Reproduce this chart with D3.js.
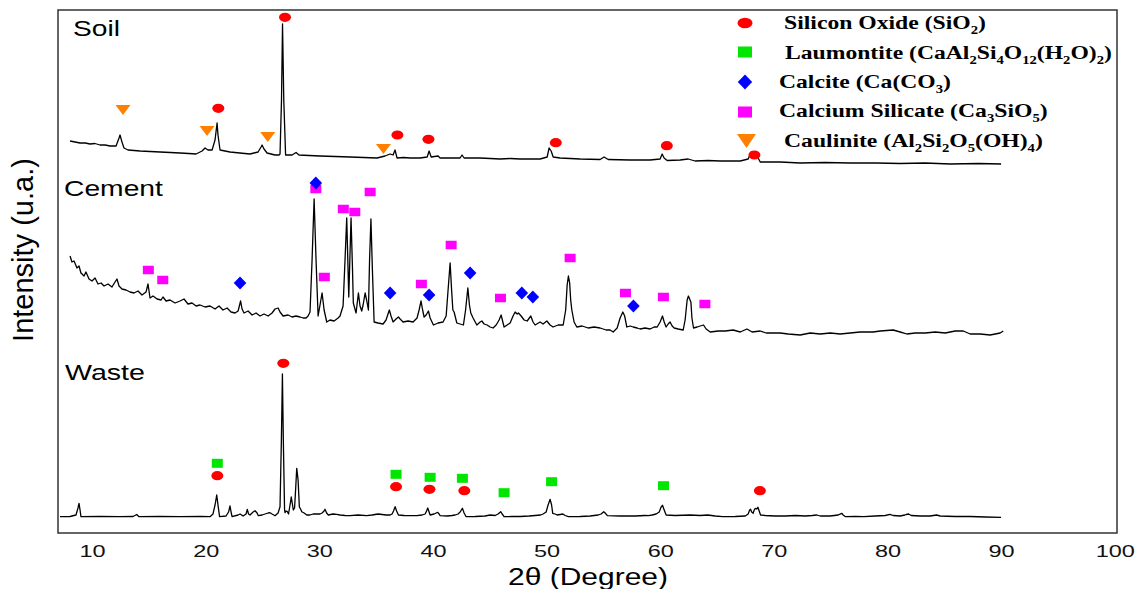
<!DOCTYPE html>
<html><head><meta charset="utf-8">
<script src="https://cdn.jsdelivr.net/npm/d3@7"></script>
<style>body{margin:0;background:#fff;} svg{display:block;}</style>
</head><body>
<svg id="c" width="1144" height="589"></svg>
<script>
// ---------------- DATA ----------------
const xTicks = [10,20,30,40,50,60,70,80,90,100];
const sampleNames = ["Soil","Cement","Waste"];

// [2theta (deg), intensity (a.u., above each pattern's own baseline)]
const soil = [[8.06,25],[8.50,24],[8.94,23],[9.40,23],[9.82,22],[10.25,22.5],[10.70,21],[11.15,21],[11.58,20],[12.11,20],[12.37,28],[12.46,31],[12.63,24],[12.81,18],[13.16,16],[13.70,15.5],[14.22,15],[15.10,14.5],[15.98,14],[16.90,13.5],[17.74,13],[18.50,12.5],[19.15,12],[19.68,15],[19.94,18],[20.20,16],[20.56,16],[20.82,26],[21.00,43],[21.08,31],[21.26,16],[21.70,15],[22.14,14],[23.00,13],[23.90,12],[24.61,14],[24.87,19],[24.96,21],[25.13,17],[25.40,13],[26.10,11],[26.45,11],[26.54,12],[26.67,66],[26.76,142],[26.87,66],[27.03,11],[27.60,11],[27.95,13.5],[28.21,11],[29.10,10.5],[30.06,10],[31.40,9.5],[32.70,9],[33.90,8.5],[35.08,8],[35.78,10],[36.22,12],[36.49,11],[36.66,16],[36.84,8],[37.40,8.5],[37.99,8],[38.87,8],[39.49,9],[39.66,15],[39.84,9],[40.45,10],[40.63,8],[41.50,8],[42.39,8],[42.56,11],[42.74,8],[44.14,8],[45.91,7],[46.80,7.5],[47.67,7],[49.43,7],[50.05,9],[50.22,18],[50.40,15],[50.58,9],[51.19,8],[52.95,7],[54.71,6.5],[55.06,9],[55.42,6.5],[57.35,6],[59.11,6],[59.99,7],[60.17,12],[60.34,8],[60.61,5.5],[61.75,6],[62.46,7],[63.07,5],[64.20,5.5],[65.27,5],[67.04,5],[67.74,7],[68.00,14],[68.18,13],[68.36,11],[68.53,10],[68.80,4],[70.56,4],[72.32,3],[74.50,3.5],[76.72,3],[79.00,3],[81.12,2.5],[83.30,3],[85.52,2],[88.00,2.5],[90.00,2]];

const cement = [[8.06,80],[8.23,74],[8.41,75],[8.67,68],[8.85,70],[9.02,63],[9.29,60],[9.46,64],[9.73,57],[9.99,55],[10.26,58],[10.52,52],[10.79,53],[11.05,50],[11.40,52],[11.75,49],[12.02,54],[12.19,57],[12.37,50],[12.63,47],[12.99,46],[13.34,44],[13.69,43],[14.04,45],[14.39,41],[14.75,44],[14.92,52],[15.10,38],[15.36,40],[15.72,37],[16.07,36],[16.24,39],[16.51,35],[16.86,36],[17.30,33],[17.74,35],[18.09,37],[18.44,32],[18.80,33],[19.15,30],[19.50,31],[19.94,29],[20.38,30],[20.82,27],[21.17,30],[21.52,26],[21.88,28],[22.23,24],[22.58,23],[22.85,25],[23.07,35],[23.20,27],[23.37,23],[23.73,25],[24.08,21],[24.43,23],[24.78,20],[25.13,22],[25.49,20],[25.84,23],[26.10,27],[26.37,28],[26.54,24],[26.81,20],[27.25,21],[27.60,19],[27.95,20],[28.30,19],[28.57,18],[28.83,18],[29.01,20],[29.18,24],[29.36,76],[29.54,137],[29.71,76],[29.89,20],[30.06,31],[30.24,43],[30.42,26],[30.65,14],[30.94,16],[31.30,15],[31.65,18],[31.82,20],[32.09,30],[32.26,76],[32.41,118],[32.59,39],[32.79,118],[32.92,66],[32.99,33],[33.23,23],[33.44,43],[33.58,30],[33.73,25],[33.85,31],[34.03,43],[34.16,36],[34.32,26],[34.42,76],[34.54,117],[34.67,66],[34.82,14],[35.17,13],[35.61,12],[35.87,16],[36.16,26],[36.31,20],[36.49,14],[36.75,17],[36.96,19],[37.11,17],[37.37,14],[37.81,15],[38.25,14],[38.60,18],[38.78,26],[38.95,35],[39.09,26],[39.22,19],[39.40,21],[39.60,25],[39.75,18],[40.04,11],[40.45,13],[40.89,14],[41.16,20],[41.33,46],[41.51,73],[41.64,46],[41.75,26],[41.86,24],[42.10,13],[42.39,12],[42.68,11],[42.87,26],[43.07,48],[43.21,31],[43.33,23],[43.53,18],[43.86,11],[44.15,14],[44.30,15],[44.50,12],[44.76,11],[45.03,9],[45.29,8],[45.56,11],[45.82,16],[46.00,21],[46.17,13],[46.26,9],[46.53,11],[46.79,13],[47.05,20],[47.23,24],[47.41,22],[47.52,23],[47.76,20],[48.02,16],[48.29,15],[48.61,20],[48.81,14],[48.99,11],[49.43,14],[49.69,12],[50.02,15],[50.31,11],[50.57,9],[51.02,11],[51.46,11],[51.68,26],[51.81,51],[51.92,60],[52.03,53],[52.12,36],[52.22,26],[52.42,14],[52.66,9],[53.13,10],[53.66,8],[54.18,9],[54.71,8],[55.24,6],[55.59,6],[55.86,4],[56.21,8],[56.47,18],[56.71,24],[56.87,20],[57.06,9],[57.35,10],[57.62,9],[57.97,8],[58.23,7],[58.67,8],[59.11,7],[59.47,9],[59.73,9],[59.99,14],[60.20,20],[60.35,14],[60.52,9],[60.70,12],[60.87,14],[61.05,10],[61.23,8],[61.58,7],[62.02,6],[62.19,16],[62.37,36],[62.48,40],[62.70,34],[62.79,18],[62.93,8],[63.25,9],[63.52,10],[63.81,11],[64.04,7],[64.40,4],[65.10,5],[65.72,5],[66.42,6],[67.04,4],[67.63,7],[68.09,4],[68.80,5],[69.33,3],[69.94,3],[70.56,3],[71.26,2],[72.32,1],[73.20,3],[74.08,2],[74.96,3],[75.84,2],[76.72,3],[77.60,4],[78.74,4],[79.36,5],[80.50,6],[81.12,4],[81.71,2],[82.44,3],[83.32,3],[84.20,4],[85.08,3],[85.96,5],[86.67,5],[87.28,2],[88.16,2],[89.04,1],[89.92,3],[90.19,5]];

const waste = [[7.18,3.3],[8.06,3.5],[8.58,5],[8.76,12],[8.85,16.7],[8.94,10],[9.02,3.3],[10.70,3.5],[12.46,3.3],[13.60,3.5],[13.93,5.5],[14.13,3.3],[15.98,3.5],[17.74,3.3],[19.50,3.5],[20.38,3.3],[20.64,6],[20.82,15],[20.97,25],[21.08,15],[21.22,3.3],[21.79,4],[22.01,8],[22.14,14],[22.23,8],[22.32,3.3],[22.85,5],[23.02,6],[23.29,4],[23.55,6],[23.66,10.7],[23.77,6],[23.90,5],[24.17,8],[24.34,9.3],[24.52,7],[24.63,4.3],[24.96,5],[25.22,6],[25.49,7],[25.66,7.3],[25.84,6],[26.10,4.3],[26.37,7],[26.54,13.3],[26.66,80],[26.75,146],[26.83,80],[26.94,10],[26.98,7.3],[27.07,9],[27.19,8.3],[27.29,6],[27.42,15],[27.53,23],[27.64,15],[27.71,10],[27.82,12],[27.91,30],[28.01,51.7],[28.13,40],[28.24,13.3],[28.39,10],[28.45,8.3],[28.66,7],[28.89,5],[29.18,5],[29.45,6],[29.77,6],[30.06,6],[30.24,7],[30.42,9],[30.50,10.7],[30.64,7],[30.79,5],[31.21,6],[31.53,5.7],[31.82,5],[32.26,4.5],[32.70,4.3],[33.41,5],[34.17,4.3],[34.64,5],[35.17,6],[35.52,5.5],[35.87,5],[36.23,5],[36.40,6],[36.53,9],[36.67,13.3],[36.80,9],[36.96,5],[37.46,4.5],[37.99,4.3],[38.58,4.3],[39.04,5],[39.31,6],[39.44,9],[39.54,12],[39.66,8],[39.75,5],[40.10,6],[40.28,7],[40.42,7.7],[40.54,6],[40.63,4.3],[41.24,4],[41.68,4.5],[41.95,5],[42.21,6],[42.39,8],[42.59,11.7],[42.74,7],[42.92,3.3],[43.71,3.5],[44.59,4],[45.03,5],[45.47,4.5],[45.73,6],[45.96,8.3],[46.09,6],[46.26,3.3],[46.97,3.5],[47.67,3.5],[48.46,4],[48.99,4.5],[49.47,5],[49.69,6],[49.96,8],[50.13,15],[50.31,20.7],[50.44,15],[50.54,6.7],[50.75,6],[50.93,5],[51.19,5.5],[51.43,6],[51.63,4.5],[51.92,3.3],[52.95,3.5],[53.83,4],[54.54,5],[54.80,6],[55.03,8.3],[55.15,7],[55.35,4.3],[56.47,4],[57.79,4],[58.67,4.5],[58.96,4.3],[59.29,5],[59.64,6],[59.91,8],[60.08,13],[60.20,14.7],[60.35,10],[60.52,5],[61.31,4.5],[62.63,5],[63.52,4.5],[64.19,5],[64.84,4],[65.50,3.3],[66.60,3.5],[67.48,4],[67.74,6],[67.87,10],[67.95,10.7],[68.05,8],[68.18,6.7],[68.27,10],[68.37,11.7],[68.49,11],[68.60,12.7],[68.71,9],[68.83,5],[69.24,4.5],[70.08,4],[71.00,4],[71.88,4.5],[72.76,4],[73.37,4.5],[73.78,5],[74.08,4],[74.96,4],[75.66,5],[75.97,6.7],[76.10,5],[76.30,3.3],[77.16,3.5],[77.93,3.3],[78.92,4],[79.80,4.5],[80.22,5.7],[80.50,4.5],[81.12,4],[81.53,5],[81.65,5.5],[81.86,6],[82.09,4.5],[82.88,4],[83.76,4],[84.32,5],[84.64,4],[85.96,3.5],[87.28,3.5],[88.60,3],[90.00,2.7]];

// phase markers [2theta, intensity above baseline]
const soilSiO2 = [[21.11,57.7],[26.98,148.7],[36.87,31],[39.60,26.7],[50.81,23.3],[60.58,20.3],[68.29,11]];
const soilKaolinite = [[12.72,56],[20.12,35],[25.46,29],[35.64,17]];
const cementCa3SiO5 = [[14.95,66],[16.22,56],[29.69,147],[30.44,59],[32.11,127],[33.12,124],[34.47,144],[38.98,52],[41.60,91],[45.94,38],[52.07,78],[56.94,43],[60.28,39],[63.93,32]];
const cementCalcite = [[23.02,53],[29.69,153],[36.23,43],[39.66,41],[43.27,63],[47.82,43],[48.79,39],[57.64,30]];
const wasteSiO2 = [[21.02,44.3],[26.83,156.7],[36.75,33.3],[39.69,30.7],[42.76,29.3],[68.77,29.3]];
const wasteLaumontite = [[21.02,56.7],[36.75,45.7],[39.75,42.7],[42.59,41.7],[46.26,27.3],[50.44,38.3],[60.29,34.3]];

const legendLabels = [
  [["Silicon Oxide (SiO",0],["2",1],[")",0]],
  [["Laumontite (CaAl",0],["2",1],["Si",0],["4",1],["O",0],["12",1],["(H",0],["2",1],["O)",0],["2",1],[")",0]],
  [["Calcite (Ca(CO",0],["3",1],[")",0]],
  [["Calcium Silicate (Ca",0],["3",1],["SiO",0],["5",1],[")",0]],
  [["Caulinite (Al",0],["2",1],["Si",0],["2",1],["O",0],["5",1],["(OH)",0],["4",1],[")",0]]
];

// ---------------- LAYOUT ----------------
const svg = d3.select('#c');
const L=58, R=1117, T=10, B=533;
const x = d3.scaleLinear().domain([7,100.2]).range([L,R]);
const y = d3.scaleLinear().domain([0,523]).range([B,T]);
const off = {soil:367, cement:197, waste:13};
const SANS = "'Liberation Sans', Arial, sans-serif";
const SERIF = "'Liberation Serif', 'Times New Roman', serif";
const COL = {red:'#ff0000', green:'#00e600', blue:'#0000ff', magenta:'#ff00ff', orange:'#ff8000'};

// frame
svg.append('rect').attr('x',L).attr('y',T).attr('width',R-L).attr('height',B-T)
  .attr('fill','none').attr('stroke','#333').attr('stroke-width',1.5);

// x axis
const ax = svg.append('g').attr('transform',`translate(0,${B})`)
  .call(d3.axisBottom(x).tickValues(xTicks).tickSize(0).tickPadding(12));
ax.select('.domain').remove();
ax.selectAll('text').attr('font-family',SANS).attr('font-size',17).attr('fill','#111')
  .attr('transform','scale(1.38,1)');

// patterns
const line = d3.line().x(d=>x(d[0]));
[[soil,off.soil],[cement,off.cement],[waste,off.waste]].forEach(([data,o])=>{
  svg.append('path').datum(data)
    .attr('d', line.y(d=>y(o+d[1]))).attr('fill','none')
    .attr('stroke','#000').attr('stroke-width',1.3).attr('stroke-linejoin','round');
});

// marker drawers
function ellipses(data,o,rx,ry){
  svg.append('g').selectAll('ellipse').data(data).join('ellipse')
    .attr('cx',d=>x(d[0])).attr('cy',d=>y(o+d[1])).attr('rx',rx).attr('ry',ry).attr('fill',COL.red);
}
function rects(data,o,w,h,c){
  svg.append('g').selectAll('rect').data(data).join('rect')
    .attr('x',d=>x(d[0])-w/2).attr('y',d=>y(o+d[1])-h/2).attr('width',w).attr('height',h).attr('fill',c);
}
function diamonds(data,o,hw,hh){
  svg.append('g').selectAll('path').data(data).join('path')
    .attr('d',d=>{const cx=x(d[0]),cy=y(o+d[1]);return `M${cx},${cy-hh}L${cx+hw},${cy}L${cx},${cy+hh}L${cx-hw},${cy}Z`;})
    .attr('fill',COL.blue);
}
function triangles(data,o,w,h){
  svg.append('g').selectAll('path').data(data).join('path')
    .attr('d',d=>{const cx=x(d[0]),cy=y(o+d[1]);return `M${cx-w/2},${cy-h/2}L${cx+w/2},${cy-h/2}L${cx},${cy+h/2}Z`;})
    .attr('fill',COL.orange);
}
triangles(soilKaolinite,off.soil,15,10);
ellipses(soilSiO2,off.soil,6,4.6);
rects(cementCa3SiO5,off.cement,11,8.5,COL.magenta);
diamonds(cementCalcite,off.cement,6.3,6.5);
rects(wasteLaumontite,off.waste,11,9,COL.green);
ellipses(wasteSiO2,off.waste,6,4.6);

// text helper: horizontally scaled text
function addText(x0,y0,segs,size,family,weight,targetW,anchor){
  const g = svg.append('g');
  const t = g.append('text').attr('font-family',family).attr('font-size',size)
    .attr('font-weight',weight).attr('text-anchor',anchor||'start').attr('fill','#000');
  let prevSub=0;
  segs.forEach(([s,sub])=>{
    const ts = t.append('tspan').text(s);
    if(sub){ ts.attr('font-size',size*0.62); }
    if(sub && !prevSub) ts.attr('dy',5);
    if(!sub && prevSub) ts.attr('dy',-5);
    prevSub=sub;
  });
  const w = t.node().getBBox().width;
  g.attr('transform',`translate(${x0},${y0}) scale(${targetW/w},1)`);
}

// sample labels
addText(73,36,[[sampleNames[0],0]],22,SANS,'normal',47);
addText(64,196,[[sampleNames[1],0]],22,SANS,'normal',99);
addText(65,380,[[sampleNames[2],0]],22,SANS,'normal',80);

// axis titles
addText(588,585,[["2θ (Degree)",0]],24,SANS,'normal',160,'middle');
svg.append('text').attr('transform','translate(33,250) rotate(-90)')
  .attr('text-anchor','middle').attr('font-family',SANS).attr('font-size',29)
  .attr('fill','#000').text('Intensity (u.a.)');

// legend
const legRows = [23,52,82,112,141];
const lx = 745;
svg.append('ellipse').attr('cx',lx).attr('cy',legRows[0]).attr('rx',7.5).attr('ry',5.2).attr('fill',COL.red);
svg.append('rect').attr('x',lx-7).attr('y',legRows[1]-5.5).attr('width',14).attr('height',11).attr('fill',COL.green);
svg.append('path').attr('d',`M${lx},${legRows[2]-7.5}L${lx+7.2},${legRows[2]}L${lx},${legRows[2]+7.5}L${lx-7.2},${legRows[2]}Z`).attr('fill',COL.blue);
svg.append('rect').attr('x',lx-7).attr('y',legRows[3]-5.5).attr('width',14).attr('height',11).attr('fill',COL.magenta);
svg.append('path').attr('d',`M${lx-8},${legRows[4]-7}L${lx+11},${legRows[4]-7}L${lx+1.5},${legRows[4]+7}Z`).attr('fill',COL.orange);

const legX = [784,785,779,779,784];
const legBase = [29,59,88,117,147];
const legW = [202,327,172,269,259];
legendLabels.forEach((segs,i)=>addText(legX[i],legBase[i],segs,19,SERIF,'bold',legW[i]));
</script>
</body></html>
